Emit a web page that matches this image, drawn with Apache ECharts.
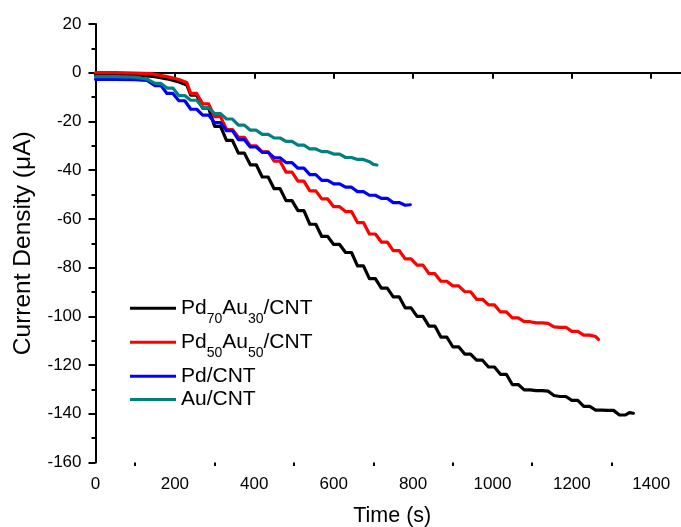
<!DOCTYPE html>
<html>
<head>
<meta charset="utf-8">
<script src="https://cdn.jsdelivr.net/npm/echarts@6/dist/echarts.min.js"></script>
<style>
html,body{margin:0;padding:0;background:#fff;}
#chart{width:681px;height:527px;}
</style>
</head>
<body>
<div id="chart"></div>
<script>
// ---- data (time s, current density µA) ----
const seriesNames = ['Pd70Au30/CNT', 'Pd50Au50/CNT', 'Pd/CNT', 'Au/CNT'];
const legendLabels = [
  '{n|Pd}{s|70}{n|Au}{s|30}{n|/CNT}',
  '{n|Pd}{s|50}{n|Au}{s|50}{n|/CNT}',
  '{p|Pd/CNT}',
  '{p|Au/CNT}'
];
const seriesColors = ['#000000', '#ff0000', '#0000ff', '#008080'];

const pd70au30 = [
  [0,-0.8],[50,-0.8],[100,-1],[150,-1.6],[180,-2.5],[210,-3.8],[230,-5],
  [240,-9.2],[255,-9.2],[270,-14.5],[285,-14.5],[300,-22],[315,-22],
  [330,-27.8],[345,-27.8],[360,-33],[375,-33],[390,-37.8],[405,-37.8],
  [420,-42.8],[435,-42.8],[450,-47.6],[465,-47.6],[480,-52.5],[495,-52.5],
  [510,-56.6],[525,-56.6],[540,-62.2],[555,-62.2],[570,-67.2],[585,-67.2],
  [600,-70.5],[615,-70.5],[630,-73.8],[645,-73.8],[660,-79.3],[675,-79.3],
  [690,-84.5],[705,-84.5],[720,-88.4],[735,-88.4],[750,-92],[765,-92],
  [780,-96.5],[795,-96.5],[810,-100],[825,-100],[840,-104],[855,-104],
  [870,-108.5],[885,-108.5],[900,-112.5],[915,-112.5],[930,-115.5],[945,-115.5],
  [960,-118],[975,-118],[990,-120.8],[1005,-120.8],[1020,-123.8],[1035,-123.8],
  [1050,-128],[1065,-128],[1080,-130.2],[1095,-130.2],[1110,-130.5],[1125,-130.5],
  [1140,-130.7],[1155,-132.5],[1170,-132.9],[1185,-132.9],[1200,-134.5],[1215,-134.5],
  [1230,-137],[1245,-137],[1260,-138.5],[1275,-138.5],[1290,-138.6],[1305,-138.6],
  [1320,-140.5],[1335,-140.5],[1345,-139.5],[1350,-140.3],[1355,-139.8]
];
const pd50au50 = [
  [0,0],[50,0],[100,-0.2],[140,-0.4],[180,-1.6],[210,-2.8],[230,-4],
  [240,-8.5],[255,-8.5],[270,-12.8],[285,-12.8],[300,-18],[315,-18],
  [330,-23.3],[345,-23.3],[360,-26.5],[375,-26.5],[390,-30],[405,-30],
  [420,-32.5],[435,-32.5],[450,-36.3],[465,-36.3],[480,-40.8],[495,-40.8],
  [510,-44.5],[525,-44.5],[540,-48.5],[555,-48.5],[570,-51.8],[585,-51.8],
  [600,-55],[615,-55],[630,-57],[645,-57],[660,-61.5],[675,-61.5],
  [690,-66.2],[705,-66.2],[720,-69.5],[735,-69.5],[750,-73],[765,-73],
  [780,-76.4],[795,-76.4],[810,-79],[825,-79],[840,-82.5],[855,-82.5],
  [870,-85.6],[885,-85.6],[900,-87.5],[915,-87.5],[930,-89.9],[945,-89.9],
  [960,-93],[975,-93],[990,-95.3],[1005,-95.3],[1020,-98.2],[1035,-98.2],
  [1050,-100.6],[1065,-100.6],[1080,-102.2],[1095,-102.2],[1110,-102.7],[1125,-102.7],
  [1140,-102.9],[1155,-104.3],[1170,-104.5],[1185,-104.5],[1200,-106.2],[1215,-106.2],
  [1230,-107.7],[1245,-107.7],[1260,-108.3],[1267,-109.5]
];
const pdCnt = [
  [0,-2.7],[50,-2.7],[100,-2.8],[130,-3.2],
  [150,-5.3],[165,-5.3],[180,-8.5],[195,-8.5],[210,-11.5],[225,-11.5],
  [240,-15],[255,-15],[270,-17.4],[285,-17.4],[300,-20.5],[315,-20.5],
  [330,-23.8],[345,-23.8],[360,-27.5],[375,-27.5],[390,-30.5],[405,-30.5],
  [420,-32.7],[435,-32.7],[450,-34.9],[465,-34.9],[480,-36.9],[495,-36.9],
  [510,-39.2],[525,-39.2],[540,-41.8],[555,-41.8],[570,-44.2],[585,-44.2],
  [600,-45.6],[615,-45.6],[630,-47],[645,-47],[660,-48.8],[675,-48.8],
  [690,-50.3],[705,-50.3],[720,-51.6],[735,-51.6],[750,-53.3],[765,-53.3],
  [780,-54.4],[793,-54.2]
];
const auCnt = [
  [0,-1.6],[50,-1.6],[100,-1.8],[130,-2.6],
  [150,-4.4],[165,-4.4],[180,-6.3],[195,-6.3],[210,-9.4],[225,-9.4],
  [240,-11.3],[255,-11.3],[270,-14.4],[285,-14.4],[300,-16.8],[315,-16.8],
  [330,-19],[345,-19],[360,-21.5],[375,-21.5],[390,-23.6],[405,-23.6],
  [420,-25.3],[435,-25.3],[450,-26.8],[465,-26.8],[480,-28.2],[495,-28.2],
  [510,-29.7],[525,-29.7],[540,-31.3],[555,-31.3],[570,-32.4],[585,-32.4],
  [600,-33.4],[615,-33.4],[630,-34.8],[645,-34.8],[660,-35.6],[675,-35.6],
  [690,-36.5],[700,-37.6],[709,-37.9]
];

const xMajorTicks = [0, 200, 400, 600, 800, 1000, 1200, 1400];
const xMinorTicks = [100, 300, 500, 700, 900, 1100, 1300];

const allData = [pd70au30, pd50au50, pdCnt, auCnt];
const FONT = 'Arial, "Liberation Sans", sans-serif';

const chart = echarts.init(document.getElementById('chart'), null, {renderer: 'canvas'});

const legendTops = [297.7, 331.7, 365.7, 389];
const legends = seriesNames.map((nm, i) => ({
  data: [nm],
  left: 130,
  top: legendTops[i],
  padding: 0,
  orient: 'vertical',
  icon: 'rect',
  itemWidth: 46,
  itemHeight: 3,
  selectedMode: false,
  formatter: () => legendLabels[i],
  textStyle: {
    fontFamily: FONT,
    color: '#000',
    rich: {
      n: {fontFamily: FONT, fontSize: 21, lineHeight: 36, color: '#000', verticalAlign: 'middle'},
      s: {fontFamily: FONT, fontSize: 14, lineHeight: 14, color: '#000', verticalAlign: 'bottom'},
      p: {fontFamily: FONT, fontSize: 21, lineHeight: 24, color: '#000'}
    }
  }
}));

const axisLineStyle = {color: '#000', width: 2};

chart.setOption({
  animation: false,
  backgroundColor: '#fff',
  grid: {left: 95.5, right: 0, top: 24, bottom: 64.5, containLabel: false, outerBoundsMode: 'none'},
  legend: legends,
  xAxis: [{
    type: 'value',
    min: 0,
    max: 1475,
    position: 'bottom',
    name: 'Time (s)',
    nameLocation: 'middle',
    nameGap: 43,
    nameTextStyle: {fontFamily: FONT, fontSize: 21.5, color: '#000', padding: [0, 0, 0, 8]},
    axisLine: {show: true, lineStyle: axisLineStyle},
    axisTick: {show: true, inside: false, length: 6, lineStyle: axisLineStyle, customValues: xMajorTicks},
    axisLabel: {show: true, margin: 13, fontFamily: FONT, fontSize: 17, color: '#000',
      customValues: xMajorTicks, formatter: (v) => String(v)},
    splitLine: {show: false}
  }, {
    type: 'value',
    min: 0,
    max: 1475,
    position: 'bottom',
    axisLine: {show: false},
    axisTick: {show: true, inside: false, length: 3.5, lineStyle: axisLineStyle, customValues: xMinorTicks},
    axisLabel: {show: false},
    splitLine: {show: false}
  }],
  yAxis: {
    type: 'value',
    min: -160,
    max: 20,
    interval: 20,
    name: 'Current Density (μA)',
    nameLocation: 'middle',
    nameGap: 60,
    nameTextStyle: {fontFamily: FONT, fontSize: 24.5, color: '#000'},
    axisLine: {show: true, lineStyle: axisLineStyle},
    axisTick: {show: true, inside: false, length: 7, lineStyle: axisLineStyle},
    minorTick: {show: true, splitNumber: 2, length: 4, lineStyle: axisLineStyle},
    axisLabel: {margin: 14, fontFamily: FONT, fontSize: 17, color: '#000', formatter: (v) => String(v)},
    splitLine: {show: false},
    minorSplitLine: {show: false}
  },
  series: allData.map((d, i) => ({
    name: seriesNames[i],
    type: 'line',
    xAxisIndex: 0,
    data: d,
    showSymbol: false,
    symbol: 'none',
    smooth: false,
    color: seriesColors[i],
    lineStyle: {color: seriesColors[i], width: 3.2, cap: 'round', join: 'round'},
    z: 2 + i
  }))
});
</script>
</body>
</html>
